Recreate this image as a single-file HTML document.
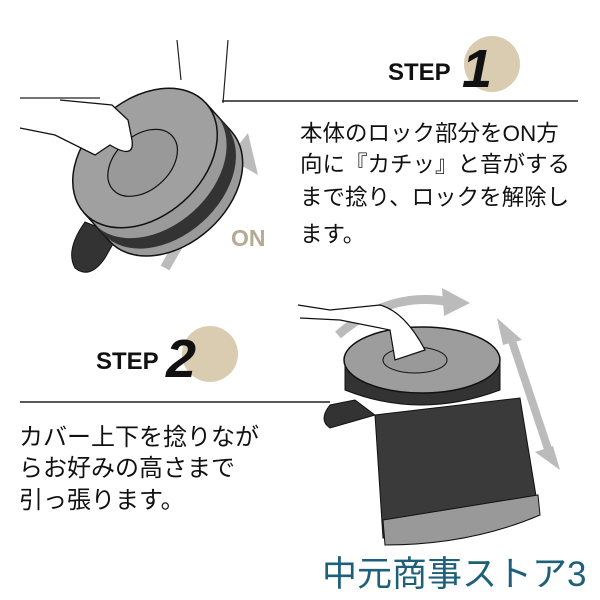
<!DOCTYPE html>
<html><head><meta charset="utf-8"><style>
body{margin:0;background:#fff;width:600px;height:600px;overflow:hidden}
svg{display:block}
.j{font-family:"Liberation Sans","Noto Sans CJK JP",sans-serif;font-size:22.5px;fill:#111}
.k{font-family:"Liberation Sans","Noto Sans CJK JP",sans-serif;font-size:24px;fill:#111}
</style></head><body>
<svg width="600" height="600" viewBox="0 0 600 600" xmlns="http://www.w3.org/2000/svg">
<line x1="222" y1="101" x2="578" y2="101" stroke="#222" stroke-width="1.5"/>
<line x1="20" y1="98" x2="100" y2="98" stroke="#222" stroke-width="1.2"/>
<line x1="177" y1="40" x2="181" y2="80" stroke="#222" stroke-width="1.2"/>
<line x1="228" y1="40" x2="223" y2="103" stroke="#222" stroke-width="1.2"/>
<line x1="20" y1="402" x2="330" y2="402" stroke="#222" stroke-width="1.5"/>
<circle cx="492" cy="64" r="28" fill="#d9ccb0"/>
<text x="388" y="80" font-family="Liberation Sans,sans-serif" font-weight="bold" font-size="24" fill="#111">STEP</text>
<text x="462" y="87" font-family="Liberation Sans,sans-serif" font-weight="bold" font-style="italic" font-size="54" fill="#111">1</text>
<circle cx="210" cy="354" r="28" fill="#d9ccb0"/>
<text x="96" y="369" font-family="Liberation Sans,sans-serif" font-weight="bold" font-size="24" fill="#111">STEP</text>
<text x="166" y="377" font-family="Liberation Sans,sans-serif" font-weight="bold" font-style="italic" font-size="54" fill="#111">2</text>
<text class="j" x="300" y="141">本体のロック部分をON方</text>
<text class="j" x="300" y="172">向に『カチッ』と音がする</text>
<text class="j" x="300" y="205">まで捻り、ロックを解除し</text>
<text class="j" x="300" y="242">ます。</text>
<text class="k" x="19" y="445">カバー上下を捻りなが</text>
<text class="k" x="19" y="476">らお好みの高さまで</text>
<text class="k" x="19" y="508">引っ張ります。</text>
<text x="231" y="246" font-family="Liberation Sans,sans-serif" font-weight="bold" font-size="23" fill="#b3ab93">ON</text>
<path d="M165 268 Q200 205 245 150" stroke="#bbb" stroke-width="10" fill="none"/>
<polygon points="228,158 248,133 258,175" fill="#bbb"/>
<path d="M85 222 Q65 250 75 268 Q90 280 105 258 L118 235Z" fill="#333" stroke="#111"/>
<g transform="translate(145,158) rotate(-42)">
<path d="M-82 0 L-82 38 A82 58 0 0 0 82 38 L82 0 Z" fill="#9a9a9a" stroke="#111" stroke-width="1.5"/>
<path d="M-82 14 L-82 28 A82 58 0 0 0 82 28 L82 14 A82 58 0 0 1 -82 14Z" fill="#333"/>
<ellipse cx="0" cy="0" rx="82" ry="58" fill="#a0a0a0" stroke="#111" stroke-width="1.5"/>
<ellipse cx="-5" cy="2" rx="40" ry="27" fill="#999" stroke="#111" stroke-width="1.2"/>
</g>
<path d="M20 128 L55 135 Q75 145 95 155 L110 145 Q135 160 132 140 L128 120 L112 105 L60 100" fill="#fff" stroke="#111" stroke-width="1.3"/>
<path d="M338 335 Q390 290 450 302" stroke="#bbb" stroke-width="9" fill="none"/>
<polygon points="442,288 470,303 444,316" fill="#bbb"/>
<line x1="510" y1="335" x2="550" y2="455" stroke="#bbb" stroke-width="8"/>
<polygon points="497,318 522,340 503,345" fill="#bbb"/>
<polygon points="560,470 535,452 553,446" fill="#bbb"/>
<polygon points="375,415 520,398 538,508 383,538" fill="#3a3a3a" stroke="#111"/>
<path d="M383,520 L538,495 L540,515 Q470,545 385,545Z" fill="#999" stroke="#111"/>
<path d="M355 400 L330 405 Q318 420 330 428 L375 415Z" fill="#333" stroke="#111"/>
<path d="M345 362 L345 390 Q420 420 500 390 L500 360Z" fill="#333" stroke="#111"/>
<ellipse cx="422" cy="360" rx="78" ry="33" fill="#9d9d9d" stroke="#111" stroke-width="1.5"/>
<ellipse cx="415" cy="360" rx="32" ry="13" fill="#999" stroke="#111"/>
<path d="M298 305 L330 310 L380 305 Q405 312 425 350 L395 360 L390 330 L340 320 L300 318" fill="#fff" stroke="#111" stroke-width="1.2"/>
<text x="322" y="586" font-family="Liberation Sans,'Noto Sans CJK JP',sans-serif" font-size="35" fill="#1e5f7a">中元商事ストア3</text>
</svg>
</body></html>
